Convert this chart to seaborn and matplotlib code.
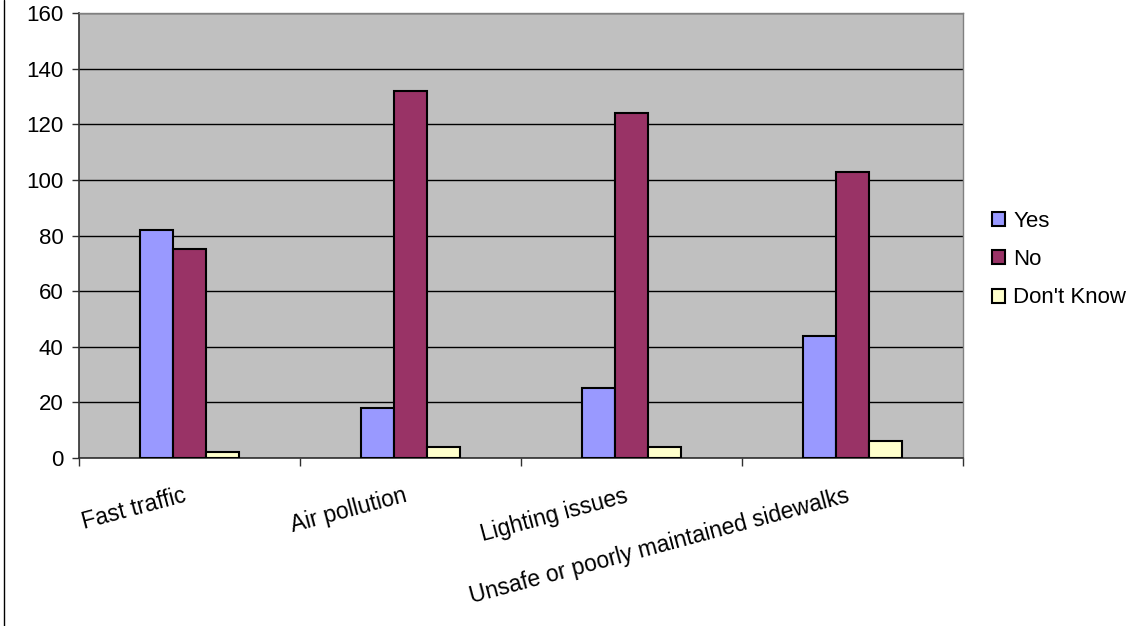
import matplotlib
matplotlib.use("Agg")
import matplotlib.pyplot as plt
import matplotlib.transforms as mtransforms
from matplotlib.lines import Line2D
import numpy as np
import pandas as pd
import seaborn as sns

# ── Data ──────────────────────────────────────────────────────────────
categories = ["Fast traffic", "Air pollution", "Lighting issues",
              "Unsafe or poorly maintained sidewalks"]
answers    = ["Yes", "No", "Don't Know"]
yes_vals   = [82, 18, 25, 44]
no_vals    = [75, 132, 124, 103]
dk_vals    = [2, 4, 4, 6]

df = pd.DataFrame({
    "category": categories * 3,
    "answer":   [a for a in answers for _ in categories],
    "count":    yes_vals + no_vals + dk_vals,
})

colors = {"Yes": "#9999FF", "No": "#993366", "Don't Know": "#FFFFCC"}

sns.set_style("white")
plt.rcParams["font.family"] = ["Liberation Sans", "DejaVu Sans"]
plt.rcParams["text.color"] = "black"
plt.rcParams["xtick.color"] = "black"
plt.rcParams["ytick.color"] = "black"

fig = plt.figure(figsize=(11.35, 6.26), dpi=100)
ax = fig.add_axes([0.0696, 0.2684, 0.7789, 0.7106])
ax.set_facecolor("#C0C0C0")

sns.barplot(data=df, x="category", y="count", hue="answer",
            hue_order=answers, order=categories, palette=colors,
            width=0.45, edgecolor="black", linewidth=1.5,
            saturation=1, ax=ax, zorder=3)

# ── Axes styling ──────────────────────────────────────────────────────
ax.set_ylim(0, 160)
ax.set_xlim(-0.5, len(categories) - 0.5)
ax.set_yticks(np.arange(0, 161, 20))
ax.yaxis.grid(True, color="black", linewidth=1, zorder=1)
ax.set_axisbelow(True)
ax.set_xlabel("")
ax.set_ylabel("")

for side in ["top", "right"]:
    ax.spines[side].set_color("#808080")
    ax.spines[side].set_linewidth(1)
for side in ["left", "bottom"]:
    ax.spines[side].set_color("#303030")
    ax.spines[side].set_linewidth(1.2)

ax.tick_params(axis="y", which="major", length=5, width=1, color="#303030",
               labelsize=16, pad=6, left=True, labelcolor="black")
ax.set_xticks(np.arange(len(categories)))
ax.set_xticklabels(categories, rotation=15, ha="right",
                   rotation_mode="anchor", fontsize=16.5, color="black")
ax.tick_params(axis="x", which="major", length=0, pad=19)
ax.set_xticks(np.arange(-0.5, len(categories)), minor=True)
ax.tick_params(axis="x", which="minor", length=6, width=1,
               color="#303030", bottom=True)

# nudge the slanted labels a little to the left, like the original
shift = mtransforms.ScaledTranslation(-7 / 100, 0, fig.dpi_scale_trans)
for lbl in ax.get_xticklabels():
    lbl.set_transform(lbl.get_transform() + shift)

# ── Legend ────────────────────────────────────────────────────────────
handles, labels = ax.get_legend_handles_labels()
ax.legend(handles, labels, loc="center left", bbox_to_anchor=(1.0226, 0.446),
          frameon=False, fontsize=16, handlelength=0.6, handleheight=0.6,
          handletextpad=0.35, labelspacing=0.78, borderaxespad=0)

# chart area border on the left edge
fig.add_artist(Line2D([4 / 1135, 4 / 1135], [0, 1], color="black",
                      linewidth=1, transform=fig.transFigure))

fig.savefig("out.png", dpi=100)
